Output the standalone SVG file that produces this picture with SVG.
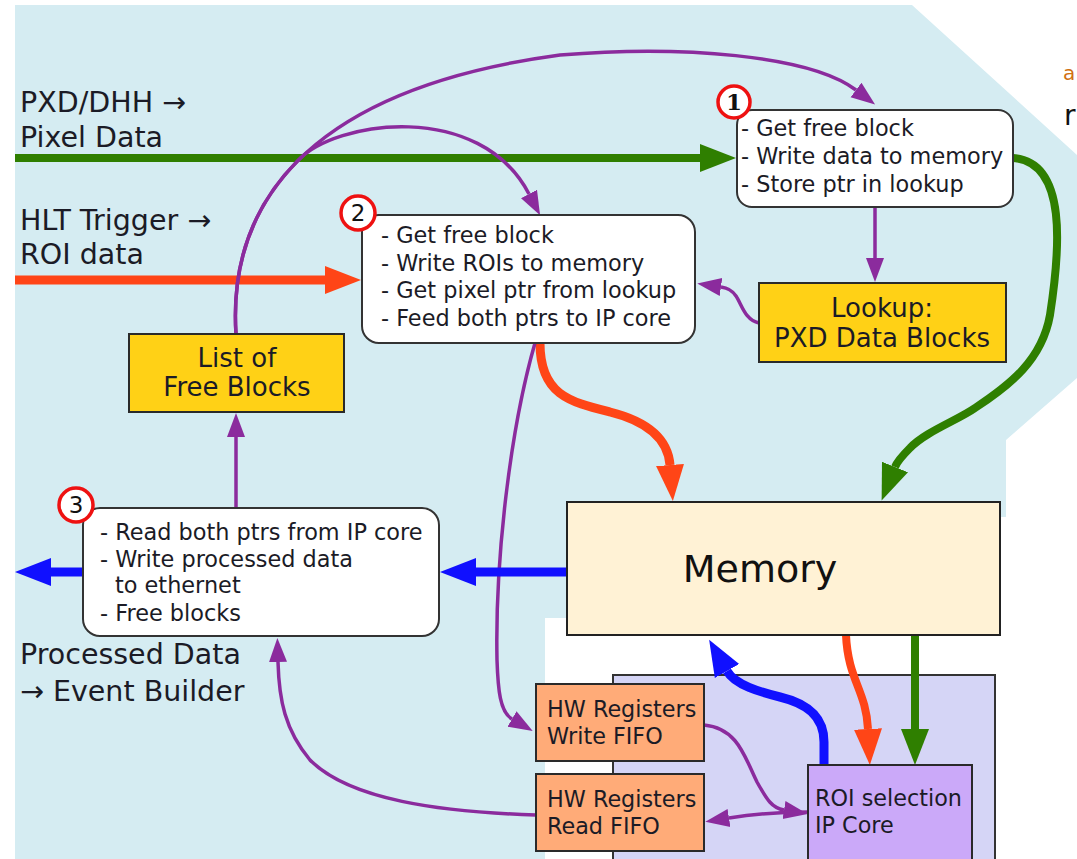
<svg xmlns="http://www.w3.org/2000/svg" width="1077" height="859" viewBox="0 0 1077 859">
<style>
text{font-family:"DejaVu Sans","Verdana",sans-serif;fill:#1b1b26}
.lbl{font-size:28.5px}
.bt{font-size:22.4px}
.nt{font-size:26px}
.ft{font-size:22.3px}
.rbox{fill:#ffffff;stroke:#333;stroke-width:2}
.ybox{fill:#ffd116;stroke:#2a2a2a;stroke-width:2}
.fifo{fill:#ffab78;stroke:#2a2a2a;stroke-width:2}
.num{fill:#ffffff;stroke:#ee1111;stroke-width:3.5}
.p{fill:none;stroke:#8b2b9d;stroke-width:3.5}
.g{fill:none;stroke:#2f7f00;stroke-width:8}
.o{fill:none;stroke:#ff4517;stroke-width:9}
.b{fill:none;stroke:#1010ff;stroke-width:9}
</style>
<defs>
<marker id="ag" markerUnits="userSpaceOnUse" markerWidth="40" markerHeight="40" viewBox="0 -20 40 40" refX="0" refY="0" orient="auto"><path d="M0,-14 L36,0 L0,14 z" fill="#2f7f00"/></marker>
<marker id="ao" markerUnits="userSpaceOnUse" markerWidth="40" markerHeight="40" viewBox="0 -20 40 40" refX="0" refY="0" orient="auto"><path d="M0,-14 L36,0 L0,14 z" fill="#ff4517"/></marker>
<marker id="ab" markerUnits="userSpaceOnUse" markerWidth="40" markerHeight="40" viewBox="0 -20 40 40" refX="0" refY="0" orient="auto"><path d="M0,-14 L36,0 L0,14 z" fill="#1010ff"/></marker>
<marker id="ap" markerUnits="userSpaceOnUse" markerWidth="30" markerHeight="30" viewBox="0 -15 30 30" refX="0" refY="0" orient="auto"><path d="M0,-9 L24,0 L0,9 z" fill="#8b2b9d"/></marker>
</defs>
<rect x="0" y="0" width="1077" height="859" fill="#ffffff"/>
<polygon points="15,5 912,5 1077,155 1077,378 1006,440 1006,517 567,517 567,618 545,618 545,859 15,859" fill="#d5ecf2"/>
<text x="1063" y="80" style="font-size:20px;fill:#d07010">a</text>
<text x="1064" y="125" style="font-size:28px;fill:#111">r</text>

<g id="ipcontainer"><rect x="613" y="675" width="382" height="200" fill="#d5d5f6" stroke="#333" stroke-width="2"/></g>

<g id="labels">
<text class="lbl" x="20" y="112">PXD/DHH →</text>
<text class="lbl" x="20" y="147">Pixel Data</text>
<text class="lbl" x="20" y="230">HLT Trigger →</text>
<text class="lbl" x="20" y="264">ROI data</text>
<text class="lbl" x="20" y="664">Processed Data</text>
<text class="lbl" x="20" y="701">→ Event Builder</text>
</g>

<g id="connectors">
<path class="g" d="M15,158 H700" marker-end="url(#ag)"/>
<path class="o" d="M15,280 H325" marker-end="url(#ao)"/>
<path class="p" d="M236,334 C228,210 300,90 560,55 C680,45 810,55 856,90" marker-end="url(#ap)"/>
<path class="p" d="M236,334 C232,272 248,211 297.5,161 C335,120 480,100 529,194" marker-end="url(#ap)"/>
<path class="g" d="M1013,158 C1068,162 1060,250 1050,315 C1042,360 1010,385 975,408 C958,420 925,432 910,448 C903,455 897,462 895,467" marker-end="url(#ag)"/>
<path class="o" d="M540,343 C540,395 570,402 610,412 C650,422 668,440 670,465" marker-end="url(#ao)"/>
<path class="p" d="M875,207 V258" marker-end="url(#ap)"/>
<path class="p" d="M759,323 C745,320 742,305 736,296 C732,290 728,288 721,287" marker-end="url(#ap)"/>
<path class="p" d="M535,343 C510,430 495,560 497,660 C498,690 500,712 512,719" marker-end="url(#ap)"/>
<path class="p" d="M536,815 C440,812 350,800 310,760 C285,730 279,700 278,662" marker-end="url(#ap)"/>
<path class="p" d="M236,508 V437" marker-end="url(#ap)"/>
<path class="b" d="M567,572 H476" marker-end="url(#ab)"/>
<path class="b" d="M83,572 H51" marker-end="url(#ab)"/>
<path class="b" d="M824,765 V742 C824,715 805,703 780,697 C760,692 735,685 727,671" marker-end="url(#ab)"/>
<path class="o" style="stroke-width:8" d="M846,635 C848,680 866,690 868,729" marker-end="url(#ao)"/>
<path class="g" d="M915,635 V729" marker-end="url(#ag)"/>
<path class="p" d="M704,725 C738,728 745,758 757,782 C767,800 772,808 784,810" marker-end="url(#ap)"/>
<path class="p" d="M808,812 C790,812 760,813 729,818" marker-end="url(#ap)"/>
</g>

<g id="step1">
<rect class="rbox" x="737" y="110" width="276" height="97" rx="15"/>
<text class="bt" x="741" y="136">- Get free block</text>
<text class="bt" x="741" y="164">- Write data to memory</text>
<text class="bt" x="741" y="192">- Store ptr in lookup</text>
<circle class="num" cx="734" cy="102" r="16"/>
<text x="734" y="110" text-anchor="middle" style="font-family:'DejaVu Serif',serif;font-weight:bold;font-size:23px;fill:#111">1</text>
</g>

<g id="step2">
<rect class="rbox" x="362" y="215" width="333" height="128" rx="17"/>
<text class="bt" x="381" y="243">- Get free block</text>
<text class="bt" x="381" y="271">- Write ROIs to memory</text>
<text class="bt" x="381" y="298">- Get pixel ptr from lookup</text>
<text class="bt" x="381" y="326">- Feed both ptrs to IP core</text>
<circle class="num" cx="358" cy="213" r="17"/>
<text x="358" y="221" text-anchor="middle" style="font-size:23px;fill:#111">2</text>
</g>

<g id="step3">
<rect class="rbox" x="83" y="508" width="356" height="128" rx="17"/>
<text class="bt" x="100" y="540">- Read both ptrs from IP core</text>
<text class="bt" x="100" y="567">- Write processed data</text>
<text class="bt" x="115" y="593">to ethernet</text>
<text class="bt" x="100" y="621">- Free blocks</text>
<circle class="num" cx="76" cy="505" r="17"/>
<text x="76" y="513" text-anchor="middle" style="font-size:23px;fill:#111">3</text>
</g>

<g id="lookup">
<rect class="ybox" x="759" y="283" width="247" height="79"/>
<text class="nt" x="882" y="317" text-anchor="middle">Lookup:</text>
<text class="nt" x="882" y="347" text-anchor="middle">PXD Data Blocks</text>
</g>

<g id="freelist">
<rect class="ybox" x="129" y="334" width="215" height="78"/>
<text class="nt" x="237" y="367" text-anchor="middle">List of</text>
<text class="nt" x="237" y="396" text-anchor="middle">Free Blocks</text>
</g>

<g id="memory">
<rect x="567" y="502" width="433" height="133" fill="#fff2d5" stroke="#222" stroke-width="2"/>
<text x="760" y="582" text-anchor="middle" style="font-size:38px;fill:#111">Memory</text>
</g>

<g id="writefifo">
<rect class="fifo" x="536" y="684" width="168" height="77"/>
<text class="ft" x="547" y="717">HW Registers</text>
<text class="ft" x="547" y="744">Write FIFO</text>
</g>

<g id="readfifo">
<rect class="fifo" x="536" y="774" width="168" height="77"/>
<text class="ft" x="547" y="807">HW Registers</text>
<text class="ft" x="547" y="834">Read FIFO</text>
</g>

<g id="ipcore">
<rect x="808" y="765" width="164" height="110" fill="#cba9f9" stroke="#2a2a2a" stroke-width="2"/>
<text class="ft" x="815" y="806">ROI selection</text>
<text class="ft" x="815" y="833">IP Core</text>
</g>
</svg>
